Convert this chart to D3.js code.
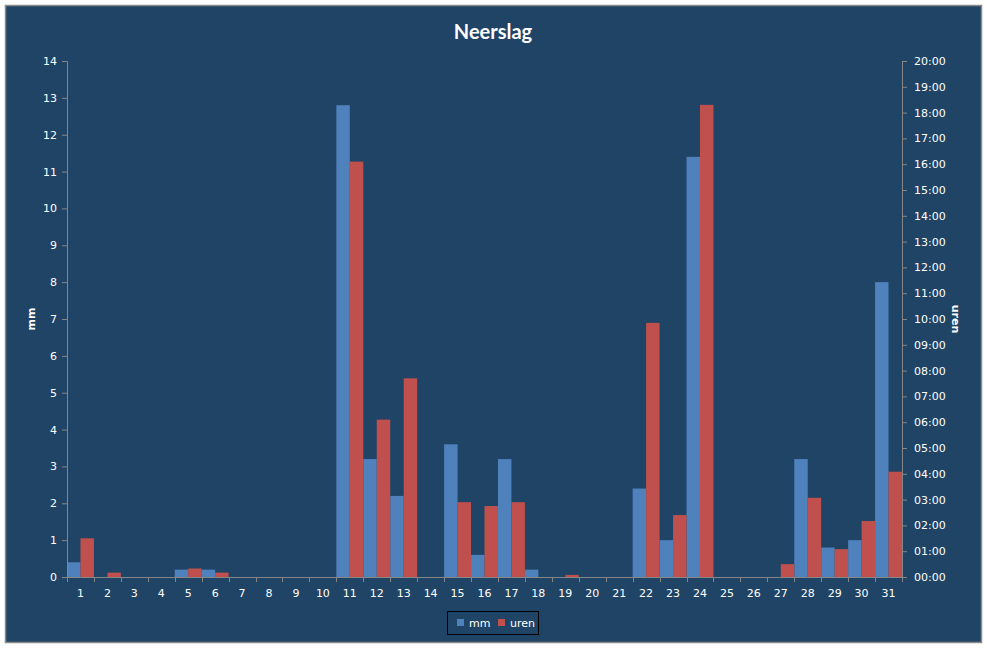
<!DOCTYPE html>
<html>
<head>
<meta charset="utf-8">
<script src="https://cdn.jsdelivr.net/npm/d3@7"></script>
<style>
  body { margin: 0; background: #ffffff; }
  svg { display: block; }
  .tick text { fill: #ffffff; font-family: "DejaVu Sans", Verdana, sans-serif; font-size: 11px; }
  .axis path, .axis line { stroke: #868686; }
</style>
</head>
<body>
<svg width="987" height="648"></svg>
<script>
// dagen van de maand
const dagen = d3.range(1, 32);
// neerslag in mm per dag
const mm = [0.4, 0, 0, 0, 0.2, 0.2, 0, 0, 0, 0,
            12.8, 3.2, 2.2, 0, 3.6, 0.6, 3.2, 0.2, 0, 0,
            0, 2.4, 1.0, 11.4, 0, 0, 0, 3.2, 0.8, 1.0, 8.0];
// duur van de neerslag in uren per dag
const uren = [1.5, 0.17, 0, 0, 0.33, 0.17, 0, 0, 0, 0,
              16.1, 6.1, 7.7, 0, 2.9, 2.75, 2.9, 0, 0.08, 0,
              0, 9.85, 2.4, 18.3, 0, 0, 0.5, 3.07, 1.08, 2.17, 4.08];

const mmTicks = d3.range(0, 15);
const urenTicks = d3.range(0, 21);

const svg = d3.select('svg');
const W = 987, H = 648;
const plot = { left: 67, right: 902, top: 61, bottom: 577 };

// achtergrond en rand
svg.append('rect')
    .attr('x', 5.5).attr('y', 5.5)
    .attr('width', W - 11).attr('height', H - 11)
    .attr('fill', '#1f4466')
    .attr('stroke', '#8a8a8a')
    .attr('stroke-width', 1.5);

// schalen
const x = d3.scaleBand().domain(dagen).range([plot.left, plot.right]).padding(0);
const half = x.bandwidth() / 2;
const yL = d3.scaleLinear().domain([0, 14]).range([plot.bottom, plot.top]);
const yR = d3.scaleLinear().domain([0, 20]).range([plot.bottom, plot.top]);

// balken mm
svg.append('g').selectAll('rect').data(dagen).enter()
    .append('rect')
    .attr('x', d => x(d))
    .attr('y', (d, i) => yL(mm[i]))
    .attr('width', half)
    .attr('height', (d, i) => plot.bottom - yL(mm[i]))
    .attr('fill', '#4f81bd');

// balken uren
svg.append('g').selectAll('rect').data(dagen).enter()
    .append('rect')
    .attr('x', d => x(d) + half)
    .attr('y', (d, i) => yR(uren[i]))
    .attr('width', half)
    .attr('height', (d, i) => plot.bottom - yR(uren[i]))
    .attr('fill', '#c0504d');

// linker as
const axL = svg.append('g').attr('class', 'axis')
    .attr('transform', `translate(${plot.left},0)`)
    .call(d3.axisLeft(yL).tickValues(mmTicks).tickSize(5).tickPadding(5).tickFormat(d3.format('d')));

// rechter as
const axR = svg.append('g').attr('class', 'axis')
    .attr('transform', `translate(${plot.right},0)`)
    .call(d3.axisRight(yR).tickValues(urenTicks).tickSize(5).tickPadding(7)
        .tickFormat(d => String(d).padStart(2, '0') + ':00'));

// x-as: streepjes op de grenzen tussen de dagen
const grenzen = d3.range(0, 32).map(i => plot.left + i * x.bandwidth());
const axX = svg.append('g').attr('class', 'axis');
axX.append('line')
    .attr('x1', plot.left).attr('x2', plot.right)
    .attr('y1', plot.bottom + 0.5).attr('y2', plot.bottom + 0.5)
    .attr('stroke', '#868686');
axX.selectAll('line.t').data(grenzen).enter()
    .append('line').attr('class', 't')
    .attr('x1', d => Math.round(d) + 0.5).attr('x2', d => Math.round(d) + 0.5)
    .attr('y1', plot.bottom).attr('y2', plot.bottom + 5)
    .attr('stroke', '#868686');
axX.selectAll('text').data(dagen).enter()
    .append('text')
    .attr('x', d => x(d) + half)
    .attr('y', plot.bottom + 20)
    .attr('text-anchor', 'middle')
    .attr('fill', '#ffffff')
    .style('font-family', '"DejaVu Sans", Verdana, sans-serif')
    .style('font-size', '11px')
    .text(d => d);

// titel
svg.append('text')
    .attr('x', 493).attr('y', 39)
    .attr('text-anchor', 'middle')
    .attr('fill', '#ffffff')
    .style('font-family', 'Lato, "Open Sans", sans-serif')
    .style('font-weight', 'bold')
    .style('font-size', '20px')
    .text('Neerslag');

// astitels
svg.append('text')
    .attr('transform', 'translate(35,319) rotate(-90)')
    .attr('text-anchor', 'middle')
    .attr('fill', '#ffffff')
    .style('font-family', '"DejaVu Sans", sans-serif')
    .style('font-weight', 'bold')
    .style('font-size', '11px')
    .text('mm');
svg.append('text')
    .attr('transform', 'translate(952,319) rotate(90)')
    .attr('text-anchor', 'middle')
    .attr('fill', '#ffffff')
    .style('font-family', '"DejaVu Sans", sans-serif')
    .style('font-weight', 'bold')
    .style('font-size', '11px')
    .text('uren');

// legenda
const leg = svg.append('g').attr('transform', 'translate(447,611)');
leg.append('rect')
    .attr('x', 0.5).attr('y', 0.5).attr('width', 91).attr('height', 23)
    .attr('fill', 'none').attr('stroke', '#000000');
const items = [{ naam: 'mm', kleur: '#4f81bd', x: 10 }, { naam: 'uren', kleur: '#c0504d', x: 51 }];
const li = leg.selectAll('g.item').data(items).enter().append('g').attr('class', 'item')
    .attr('transform', d => `translate(${d.x},0)`);
li.append('rect').attr('x', 0).attr('y', 8).attr('width', 7).attr('height', 7).attr('fill', d => d.kleur);
li.append('text').attr('x', 12).attr('y', 16)
    .attr('fill', '#ffffff')
    .style('font-family', '"DejaVu Sans", sans-serif')
    .style('font-size', '11px')
    .text(d => d.naam);
</script>
</body>
</html>
